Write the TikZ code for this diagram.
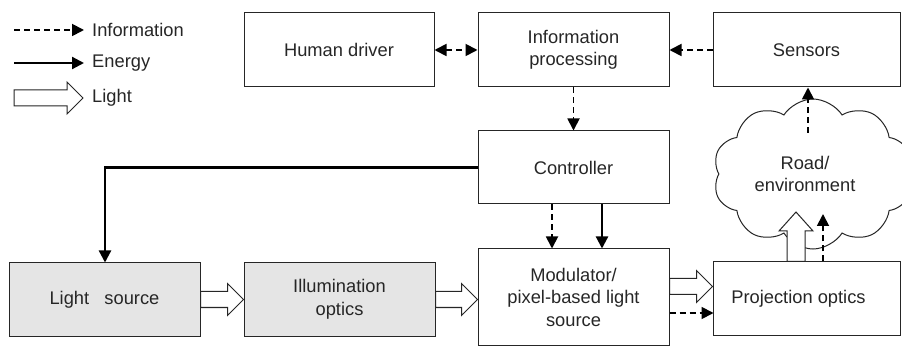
\documentclass[tikz,border=0pt]{standalone}
\usepackage{fontspec}
\setmainfont{Liberation Sans}
\usetikzlibrary{arrows.meta,calc,shapes.symbols}
\newcommand\fs{\fontsize{18.3}{22.5}\selectfont}
\newcommand\lightR[2]{\draw[lightarr] let \p1=(#1), \p2=(#2) in (\x1,\y1+8pt) -- (\x2-16pt,\y1+8pt) -- (\x2-16pt,\y1+16pt) -- (\x2,\y1) -- (\x2-16pt,\y1-16pt) -- (\x2-16pt,\y1-8pt) -- (\x1,\y1-8pt) -- cycle;}
\newcommand\lightU[2]{\draw[lightarr] let \p1=(#1), \p2=(#2) in (\x1-9pt,\y1) -- (\x1-9pt,\y2-19pt) -- (\x1-17pt,\y2-19pt) -- (\x1,\y2) -- (\x1+17pt,\y2-19pt) -- (\x1+9pt,\y2-19pt) -- (\x1+9pt,\y1) -- cycle;}
\tikzset{
  box/.style={draw=black!85, line width=1pt, minimum width=191pt, minimum height=74pt, inner sep=0pt, align=center, font=\fs, text=black!85},
  shadedbox/.style={box, fill=black!10},
  legtext/.style={inner sep=0pt, anchor=west, font=\fs, text=black!85},
  info/.style={line width=1.8pt, dash pattern=on 6pt off 4pt, -{Triangle[length=12pt,width=12pt]}},
  infoboth/.style={line width=1.8pt, dash pattern=on 6pt off 4pt, {Triangle[length=12pt,width=12pt]}-{Triangle[length=12pt,width=12pt]}},
  energy/.style={line width=2.2pt, -{Triangle[length=12pt,width=12pt]}},
  lightarr/.style={draw=black!85, line width=1pt, fill=white, line join=miter},
}
\begin{document}
\begin{tikzpicture}[x=1pt,y=-1pt]
\useasboundingbox (0,0) rectangle (902,347);
% legend
\coordinate (li1) at (14,30); \coordinate (li2) at (84,30);
\draw[info] (li1) -- (li2);
\node[legtext] (lit) at (92,30) {Information};
\coordinate (le1) at (14,63); \coordinate (le2) at (84,63);
\draw[energy] (le1) -- (le2);
\node[legtext] (let) at (92,63) {Energy};
\coordinate (ll1) at (14,98); \coordinate (ll2) at (83,98);
\lightR{ll1}{ll2}
\node[legtext] (llt) at (92,98) {Light};
% boxes
\node[box, minimum width=190pt] (hd) at (339,50) {Human driver};
\node[box] (ip) at (573.5,50) {Information\\processing};
\node[box, minimum width=187pt] (sen) at (806.5,50) {Sensors};
\node[box, minimum height=73pt] (ctl) at (573.5,167.5) {Controller};
\node[box, minimum height=96pt] (mod) at (573.5,297) {Modulator/\\pixel-based light\\source};
\node[box, minimum width=187pt, minimum height=73pt] (proj) at (806.5,298.5) {\hspace*{-16pt}Projection optics};
\node[shadedbox, minimum height=73pt] (ls) at (104.5,299.5) {Light\ \ \ source};
\node[shadedbox, minimum height=73pt] (ill) at (339.5,299.5) {Illumination\\optics};
% cloud
\node[cloud, draw=black!85, line width=1pt, fill=white, cloud puffs=10, cloud puff arc=115, aspect=1.4, minimum width=200pt, minimum height=150pt, align=center, font=\fs, text=black!85, inner sep=0pt] (road) at (813,174) {\hspace*{-16pt}Road/\\[-1pt]\hspace*{-16pt}environment};
% information connectors
\draw[infoboth] (hd.east) -- (ip.west);
\draw[info] (sen.west) -- (ip.west -| ip.east);
\draw[info] (ip.south) -- (ctl.north);
\draw[info] ($(ctl.south)+(-21.5,0)$) -- ($(mod.north)+(-21.5,0)$);
\draw[energy] ($(ctl.south)+(28.5,0)$) -- ($(mod.north)+(28.5,0)$);
\draw[energy] (ctl.west) -| ($(ls.north)+(0.5,0)$);
\draw[info] ($(mod.east)+(0,16)$) -- ($(mod.east)+(44,16)$);
\coordinate (rs) at (808,133);
\draw[info] (rs) -- (rs |- sen.south);
% light connectors
\lightR{ls.east}{ill.west}
\lightR{ill.east}{mod.west}
\lightR{$(mod.east)+(0,-10.5)$}{proj.west}
\coordinate (roadin) at (796,212);
\lightU{roadin |- proj.north}{roadin}
\coordinate (pr) at (823,214);
\draw[info] (pr |- proj.north) -- (pr);
\end{tikzpicture}
\end{document}
